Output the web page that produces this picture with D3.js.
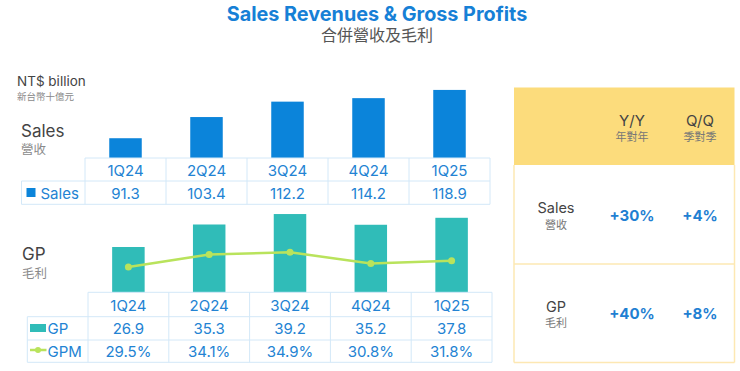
<!DOCTYPE html>
<html>
<head>
<meta charset="utf-8">
<script src="https://cdn.jsdelivr.net/npm/d3@7"></script>
<style>
  body { margin: 0; background: #fff; }
  svg { display: block; font-family: "Inter", "Noto Sans CJK TC", sans-serif; }
</style>
</head>
<body>
<svg id="chart" width="740" height="371"></svg>
<script>
// chart data
var quarters = ['1Q24', '2Q24', '3Q24', '4Q24', '1Q25'];
var sales = [91.3, 103.4, 112.2, 114.2, 118.9];
var gp = [26.9, 35.3, 39.2, 35.2, 37.8];
var gpm = [29.5, 34.1, 34.9, 30.8, 31.8];

// growth panel
var growthCols = [['Y/Y', '年對年'], ['Q/Q', '季對季']];
var growthRows = [['Sales', '營收'], ['GP', '毛利']];
var growthVals = [['+30%', '+4%'], ['+40%', '+8%']];

var BLUE = '#0b84da', TEAL = '#30bcb8', LIME = '#b9e35c';
var TXT = '#2383d3', GRID = '#d3e8f8', GREY = '#444', LGREY = '#8a8a8a';

var svg = d3.select('#chart');

// titles
svg.append('text').attr('x', 377).attr('y', 21).attr('text-anchor', 'middle')
  .attr('font-size', 19.8).attr('font-weight', 700).attr('fill', '#1680d6')
  .text('Sales Revenues & Gross Profits');
svg.append('text').attr('x', 377).attr('y', 41).attr('text-anchor', 'middle')
  .attr('font-size', 16).attr('fill', '#555').text('合併營收及毛利');

svg.append('text').attr('x', 17).attr('y', 86).attr('font-size', 13.5).attr('fill', GREY).text('NT$ billion');
svg.append('text').attr('x', 17).attr('y', 99.5).attr('font-size', 9.5).attr('fill', LGREY).text('新台幣十億元');

svg.append('text').attr('x', 21).attr('y', 137).attr('font-size', 17).attr('fill', GREY).text('Sales');
svg.append('text').attr('x', 21).attr('y', 154).attr('font-size', 12.5).attr('fill', LGREY).text('營收');
svg.append('text').attr('x', 22).attr('y', 260).attr('font-size', 17).attr('fill', GREY).text('GP');
svg.append('text').attr('x', 22).attr('y', 278).attr('font-size', 12.5).attr('fill', LGREY).text('毛利');

// ---------- sales block ----------
var xs = d3.scaleBand().domain(quarters).range([85, 490]);
var ys = d3.scaleLinear().domain([80, 130]).range([158, 70.5]);
var barW = 32.5;

svg.append('g').selectAll('rect').data(sales).join('rect')
  .attr('x', function(d, i) { return xs(quarters[i]) + xs.bandwidth() / 2 - barW / 2; })
  .attr('y', function(d) { return ys(d); })
  .attr('width', barW)
  .attr('height', function(d) { return ys(80) - ys(d); })
  .attr('fill', BLUE);

// table helper
function table(x, legendX, rowYs) {
  var g = svg.append('g').attr('stroke', GRID).attr('stroke-width', 1).attr('fill', 'none');
  var top = rowYs[0], bot = rowYs[rowYs.length - 1];
  var x0 = x.range()[0], x1 = x.range()[1];
  g.append('line').attr('x1', x0).attr('x2', x1).attr('y1', top).attr('y2', top);
  rowYs.slice(1).forEach(function(y) {
    g.append('line').attr('x1', legendX).attr('x2', x1).attr('y1', y).attr('y2', y);
  });
  g.append('line').attr('x1', legendX).attr('x2', legendX).attr('y1', rowYs[1]).attr('y2', bot);
  quarters.forEach(function(q) {
    g.append('line').attr('x1', x(q)).attr('x2', x(q)).attr('y1', top).attr('y2', bot);
  });
  g.append('line').attr('x1', x1).attr('x2', x1).attr('y1', top).attr('y2', bot);
}

function rowText(x, arr, y) {
  svg.append('g').selectAll('text').data(arr).join('text')
    .attr('x', function(d, i) { return x(quarters[i]) + x.bandwidth() / 2; })
    .attr('y', y)
    .attr('text-anchor', 'middle').attr('font-size', 15).attr('fill', TXT)
    .text(function(d) { return d; });
}

table(xs, 21.5, [158, 181, 204.3]);
rowText(xs, quarters, 175.5);
rowText(xs, sales.map(function(d) { return d.toFixed(1); }), 198.5);
svg.append('rect').attr('x', 26.5).attr('y', 188).attr('width', 9).attr('height', 9).attr('fill', BLUE);
svg.append('text').attr('x', 40.5).attr('y', 198.5).attr('font-size', 15).attr('fill', TXT).text('Sales');

// ---------- GP block ----------
var xg = d3.scaleBand().domain(quarters).range([88, 492]);
var yg = d3.scaleLinear().domain([10, 45]).range([292.3, 198.5]);
var ym = d3.scaleLinear().domain([25, 40]).range([279.2, 238.4]);

svg.append('g').selectAll('rect').data(gp).join('rect')
  .attr('x', function(d, i) { return xg(quarters[i]) + xg.bandwidth() / 2 - barW / 2; })
  .attr('y', function(d) { return yg(d); })
  .attr('width', barW)
  .attr('height', function(d) { return yg(10) - yg(d); })
  .attr('fill', TEAL);

var line = d3.line()
  .x(function(d, i) { return xg(quarters[i]) + xg.bandwidth() / 2; })
  .y(function(d) { return ym(d); });
svg.append('path').datum(gpm).attr('d', line)
  .attr('fill', 'none').attr('stroke', LIME).attr('stroke-width', 2.5);
svg.append('g').selectAll('circle').data(gpm).join('circle')
  .attr('cx', function(d, i) { return xg(quarters[i]) + xg.bandwidth() / 2; })
  .attr('cy', function(d) { return ym(d); })
  .attr('r', 3.5).attr('fill', LIME);

table(xg, 27.3, [292.3, 316.7, 340, 362.3]);
rowText(xg, quarters, 310.7);
rowText(xg, gp.map(function(d) { return d.toFixed(1); }), 333.5);
rowText(xg, gpm.map(function(d) { return d.toFixed(1) + '%'; }), 356.7);

svg.append('rect').attr('x', 30).attr('y', 324).attr('width', 16).attr('height', 8).attr('fill', TEAL);
svg.append('text').attr('x', 47.5).attr('y', 333.5).attr('font-size', 15).attr('fill', TXT).text('GP');
svg.append('line').attr('x1', 30).attr('x2', 46.5).attr('y1', 350).attr('y2', 350)
  .attr('stroke', LIME).attr('stroke-width', 2.5);
svg.append('circle').attr('cx', 38).attr('cy', 350).attr('r', 3).attr('fill', LIME);
svg.append('text').attr('x', 47.5).attr('y', 356.7).attr('font-size', 15).attr('fill', TXT).text('GPM');

// ---------- growth panel ----------
var px0 = 514, px1 = 734.5;
var colX = [632, 700];

svg.append('rect').attr('x', px0).attr('y', 87.5).attr('width', px1 - px0).attr('height', 165 - 87.5)
  .attr('fill', '#fcdc7c');
var pb = svg.append('g').attr('stroke', '#fde8b3').attr('stroke-width', 1.5).attr('fill', 'none');
pb.append('line').attr('x1', px0).attr('x2', px0).attr('y1', 165).attr('y2', 362.5);
pb.append('line').attr('x1', px1).attr('x2', px1).attr('y1', 165).attr('y2', 362.5);
pb.append('line').attr('x1', px0).attr('x2', px1).attr('y1', 264).attr('y2', 264);
pb.append('line').attr('x1', px0).attr('x2', px1).attr('y1', 362.5).attr('y2', 362.5);

growthCols.forEach(function(c, i) {
  svg.append('text').attr('x', colX[i]).attr('y', 125.5).attr('text-anchor', 'middle')
    .attr('font-size', 15).attr('fill', GREY).text(c[0]);
  svg.append('text').attr('x', colX[i]).attr('y', 141).attr('text-anchor', 'middle')
    .attr('font-size', 11).attr('fill', '#777').text(c[1]);
});

var labelY = [[213, 229], [311.5, 327]];
var valY = [220.7, 319];
growthRows.forEach(function(r, j) {
  svg.append('text').attr('x', 556).attr('y', labelY[j][0]).attr('text-anchor', 'middle')
    .attr('font-size', 14.5).attr('fill', GREY).text(r[0]);
  svg.append('text').attr('x', 556).attr('y', labelY[j][1]).attr('text-anchor', 'middle')
    .attr('font-size', 11).attr('fill', '#777').text(r[1]);
  growthVals[j].forEach(function(v, i) {
    svg.append('text').attr('x', colX[i]).attr('y', valY[j]).attr('text-anchor', 'middle')
      .attr('font-size', 15).attr('font-weight', 700).attr('fill', '#1f80d2').text(v);
  });
});
</script>
</body>
</html>
